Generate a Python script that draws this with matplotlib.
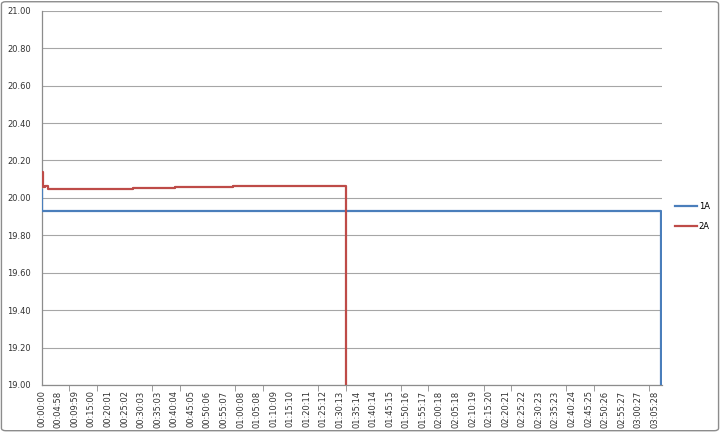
import numpy as np
import matplotlib
matplotlib.use("Agg")
import matplotlib.pyplot as plt
from matplotlib.patches import FancyBboxPatch

# sample index (one row per logged reading) where the value changes
blue_x = [0, 5, 420, 700, 4500, 9000, 10400, 11209]
blue_y = [20.04, 19.93, 19.932, 19.93, 19.932, 19.931, 19.93, 0.0]

red_x = [0, 14, 60, 114, 186, 1000, 1652, 2413, 3462, 4675, 5517]
red_y = [20.14, 20.06, 20.065, 20.05, 20.046, 20.05, 20.054, 20.056, 20.065, 20.064, 0.0]

n_last = 11209
label_step = 300
tick_labels = [
    "00:00:00", "00:04:58", "00:09:59", "00:15:00", "00:20:01", "00:25:02",
    "00:30:03", "00:35:03", "00:40:04", "00:45:05", "00:50:06", "00:55:07",
    "01:00:08", "01:05:08", "01:10:09", "01:15:10", "01:20:11", "01:25:12",
    "01:30:13", "01:35:14", "01:40:14", "01:45:15", "01:50:16", "01:55:17",
    "02:00:18", "02:05:18", "02:10:19", "02:15:20", "02:20:21", "02:25:22",
    "02:30:23", "02:35:23", "02:40:24", "02:45:25", "02:50:26", "02:55:27",
    "03:00:27", "03:05:28",
]

fig = plt.figure(figsize=(7.2, 4.32), dpi=100)
ax = fig.add_axes([0.058, 0.109, 0.861, 0.866])

# chart area border
fig.patches.append(FancyBboxPatch((0.002, 0.003), 0.996, 0.993,
                                  boxstyle="round,pad=0,rounding_size=0.006",
                                  transform=fig.transFigure, fill=False,
                                  edgecolor="#8c8c8c", linewidth=1.0))

ax.plot(blue_x, blue_y, drawstyle="steps-post", color="#4a7ebb", lw=1.6,
        label="1A", zorder=4)
ax.plot(red_x, red_y, drawstyle="steps-post", color="#be4b48", lw=1.6,
        label="2A", zorder=4)

ax.set_ylim(19.0, 21.0)
ax.set_yticks(np.arange(19.0, 21.01, 0.2))
ax.set_yticklabels([f"{v:.2f}" for v in np.arange(19.0, 21.01, 0.2)])
ax.set_xlim(0, n_last + 15)

pos = [i * label_step for i in range(len(tick_labels))]
ax.set_xticks(pos)
ax.set_xticklabels(tick_labels, rotation=90)
ax.set_xticks(np.arange(500, n_last, 500), minor=True)

ax.tick_params(axis="x", which="major", length=0, pad=4, labelsize=6, colors="#333333")
ax.tick_params(axis="x", which="minor", length=4, color="#8c8c8c", direction="out")
ax.tick_params(axis="y", length=0, pad=8, labelsize=6, colors="#333333")

ax.grid(axis="y", color="#a6a6a6", lw=0.8)
ax.set_axisbelow(True)
for s in ["top", "right"]:
    ax.spines[s].set_visible(False)
for s in ["left", "bottom"]:
    ax.spines[s].set_color("#8c8c8c")
    ax.spines[s].set_linewidth(0.9)

ax.legend(loc="center left", bbox_to_anchor=(1.01, 0.45), frameon=False,
          fontsize=6, handlelength=2.6, handletextpad=0.2, labelspacing=1.3)

fig.savefig("out.png", dpi=100)
